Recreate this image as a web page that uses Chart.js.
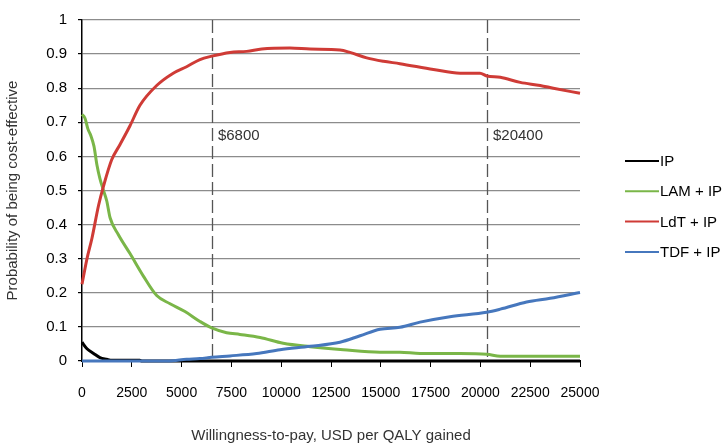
<!DOCTYPE html>
<html>
<head>
<meta charset="utf-8">
<script src="https://cdn.jsdelivr.net/npm/chart.js@4/dist/chart.umd.min.js"></script>
<style>
    body { margin: 0; background: #fff; }
    #wrap { width: 725px; height: 446px; }
</style>
</head>
<body>
<div id="wrap"><canvas id="ceacChart"></canvas></div>
<script>
// Willingness-to-pay (x) and probability (y)
var ipX = [0, 250, 580, 900, 1240, 1500, 2900, 3000, 25000];
var ipY = [0.055, 0.036, 0.022, 0.010, 0.005, 0.002, 0.002, 0, 0];

var lamX = [0, 150, 300, 450, 600, 750, 900, 1080, 1240, 1410, 1820, 2410, 3080, 3750, 4420, 5170, 5920, 6510, 7260, 7930, 8940, 10100, 11450, 13120, 14960, 15960, 16970, 18980, 20320, 21000, 21820, 25000];
var lamY = [0.723, 0.712, 0.68, 0.66, 0.63, 0.575, 0.535, 0.50, 0.47, 0.42, 0.371, 0.315, 0.249, 0.192, 0.168, 0.145, 0.116, 0.097, 0.083, 0.078, 0.069, 0.052, 0.042, 0.033, 0.026, 0.026, 0.022, 0.022, 0.020, 0.014, 0.014, 0.014];

var ldtX = [0, 250, 500, 830, 1080, 1490, 1910, 2410, 2910, 3750, 4580, 5250, 5920, 6510, 7430, 8270, 9020, 10440, 11450, 12950, 13450, 14290, 15130, 15960, 17640, 18980, 19980, 20320, 21000, 22000, 23000, 23660, 25000];
var ldtY = [0.225, 0.30, 0.36, 0.456, 0.513, 0.59, 0.635, 0.69, 0.75, 0.808, 0.844, 0.863, 0.884, 0.894, 0.905, 0.908, 0.915, 0.918, 0.915, 0.912, 0.905, 0.889, 0.879, 0.872, 0.855, 0.844, 0.844, 0.836, 0.832, 0.817, 0.808, 0.80, 0.785];

var tdfX = [0, 2900, 4320, 5250, 5920, 6510, 7430, 8770, 9940, 11450, 12950, 13960, 14960, 15960, 16970, 18470, 20320, 21000, 22320, 23500, 25000];
var tdfY = [0, 0, 0, 0.005, 0.007, 0.011, 0.015, 0.022, 0.033, 0.043, 0.055, 0.074, 0.093, 0.099, 0.114, 0.13, 0.143, 0.152, 0.173, 0.184, 0.201];

var seriesNames = ['IP', 'LAM + IP', 'LdT + IP', 'TDF + IP'];
var seriesColors = ['#000000', '#7ab648', '#cf3b36', '#4677bd'];

// dashed reference lines and their labels
var thresholdX = [6520, 20330];
var thresholdLabels = ['$6800', '$20400'];
var thresholdLabelY = 0.66;

function toPoints(xs, ys) {
    return xs.map(function (x, i) { return { x: x, y: ys[i] }; });
}

var allX = [ipX, lamX, ldtX, tdfX];
var allY = [ipY, lamY, ldtY, tdfY];

var datasets = seriesNames.map(function (name, i) {
    return {
        label: name,
        data: toPoints(allX[i], allY[i]),
        borderColor: seriesColors[i],
        backgroundColor: seriesColors[i],
        borderWidth: 3,
        pointRadius: 0,
        fill: false,
        cubicInterpolationMode: 'monotone',
        clip: 5,
        order: 4 - i
    };
});

var FONT = "'Liberation Sans', Arial, sans-serif";

var thresholdPlugin = {
    id: 'thresholds',
    beforeDatasetsDraw: function (chart) {
        var ctx = chart.ctx, xs = chart.scales.x, ys = chart.scales.y;
        ctx.save();
        ctx.strokeStyle = '#555555';
        ctx.lineWidth = 1.3;
        ctx.setLineDash([13, 5]);
        thresholdX.forEach(function (v, i) {
            var px = Math.round(xs.getPixelForValue(v)) + 0.5;
            ctx.beginPath();
            ctx.moveTo(px, ys.getPixelForValue(1));
            ctx.lineTo(px, ys.getPixelForValue(0));
            ctx.stroke();
        });
        ctx.setLineDash([]);
        ctx.fillStyle = '#333333';
        ctx.font = '15px ' + FONT;
        ctx.textBaseline = 'middle';
        ctx.textAlign = 'left';
        thresholdX.forEach(function (v, i) {
            ctx.fillText(thresholdLabels[i], xs.getPixelForValue(v) + 6, ys.getPixelForValue(thresholdLabelY));
        });
        ctx.restore();
    },
    afterDraw: function (chart) {
        // legend at the right
        var ctx = chart.ctx;
        ctx.save();
        ctx.font = '15px ' + FONT;
        ctx.textBaseline = 'middle';
        ctx.textAlign = 'left';
        seriesNames.forEach(function (name, i) {
            var y = 161 + i * 30.3;
            ctx.strokeStyle = seriesColors[i];
            ctx.lineWidth = 2;
            ctx.beginPath();
            ctx.moveTo(625, y);
            ctx.lineTo(659, y);
            ctx.stroke();
            ctx.fillStyle = '#000';
            ctx.fillText(name, 660, y + 1);
        });
        ctx.restore();
    }
};

var ctx = document.getElementById('ceacChart');
var ceacChart = new Chart(ctx, {
    type: 'line',
    data: { datasets: datasets },
    plugins: [thresholdPlugin],
    options: {
        responsive: true,
        maintainAspectRatio: false,
        animation: false,
        layout: { padding: { top: 8, right: 145, bottom: 0, left: 0 } },
        plugins: {
            legend: { display: false },
            tooltip: { enabled: false }
        },
        scales: {
            x: {
                type: 'linear',
                min: 0,
                max: 25000,
                afterFit: function (scale) { scale.height = 85; },
                border: { color: '#000', width: 2 },
                grid: { drawOnChartArea: false, tickLength: 6, tickColor: '#000', tickWidth: 1 },
                ticks: {
                    stepSize: 2500,
                    padding: 18,
                    maxRotation: 0,
                    color: '#000',
                    font: { family: FONT, size: 14 },
                    callback: function (v) { return String(v); }
                },
                title: {
                    display: true,
                    text: 'Willingness-to-pay, USD per QALY gained',
                    color: '#333',
                    font: { family: FONT, size: 15 },
                    padding: { top: 0, bottom: 1 }
                }
            },
            y: {
                min: 0,
                max: 1,
                afterFit: function (scale) { scale.width = 82; },
                border: { color: '#000', width: 1.5 },
                grid: { color: '#8c8c8c', lineWidth: 1.2, tickLength: 4, tickColor: '#000' },
                ticks: {
                    stepSize: 0.1,
                    padding: 11,
                    color: '#000',
                    font: { family: FONT, size: 15 },
                    callback: function (v) { return String(+v.toFixed(1)); }
                },
                title: {
                    display: true,
                    text: 'Probability of being cost-effective',
                    color: '#333',
                    font: { family: FONT, size: 15 },
                    padding: { top: 4, bottom: 0 }
                }
            }
        }
    }
});
</script>
</body>
</html>
